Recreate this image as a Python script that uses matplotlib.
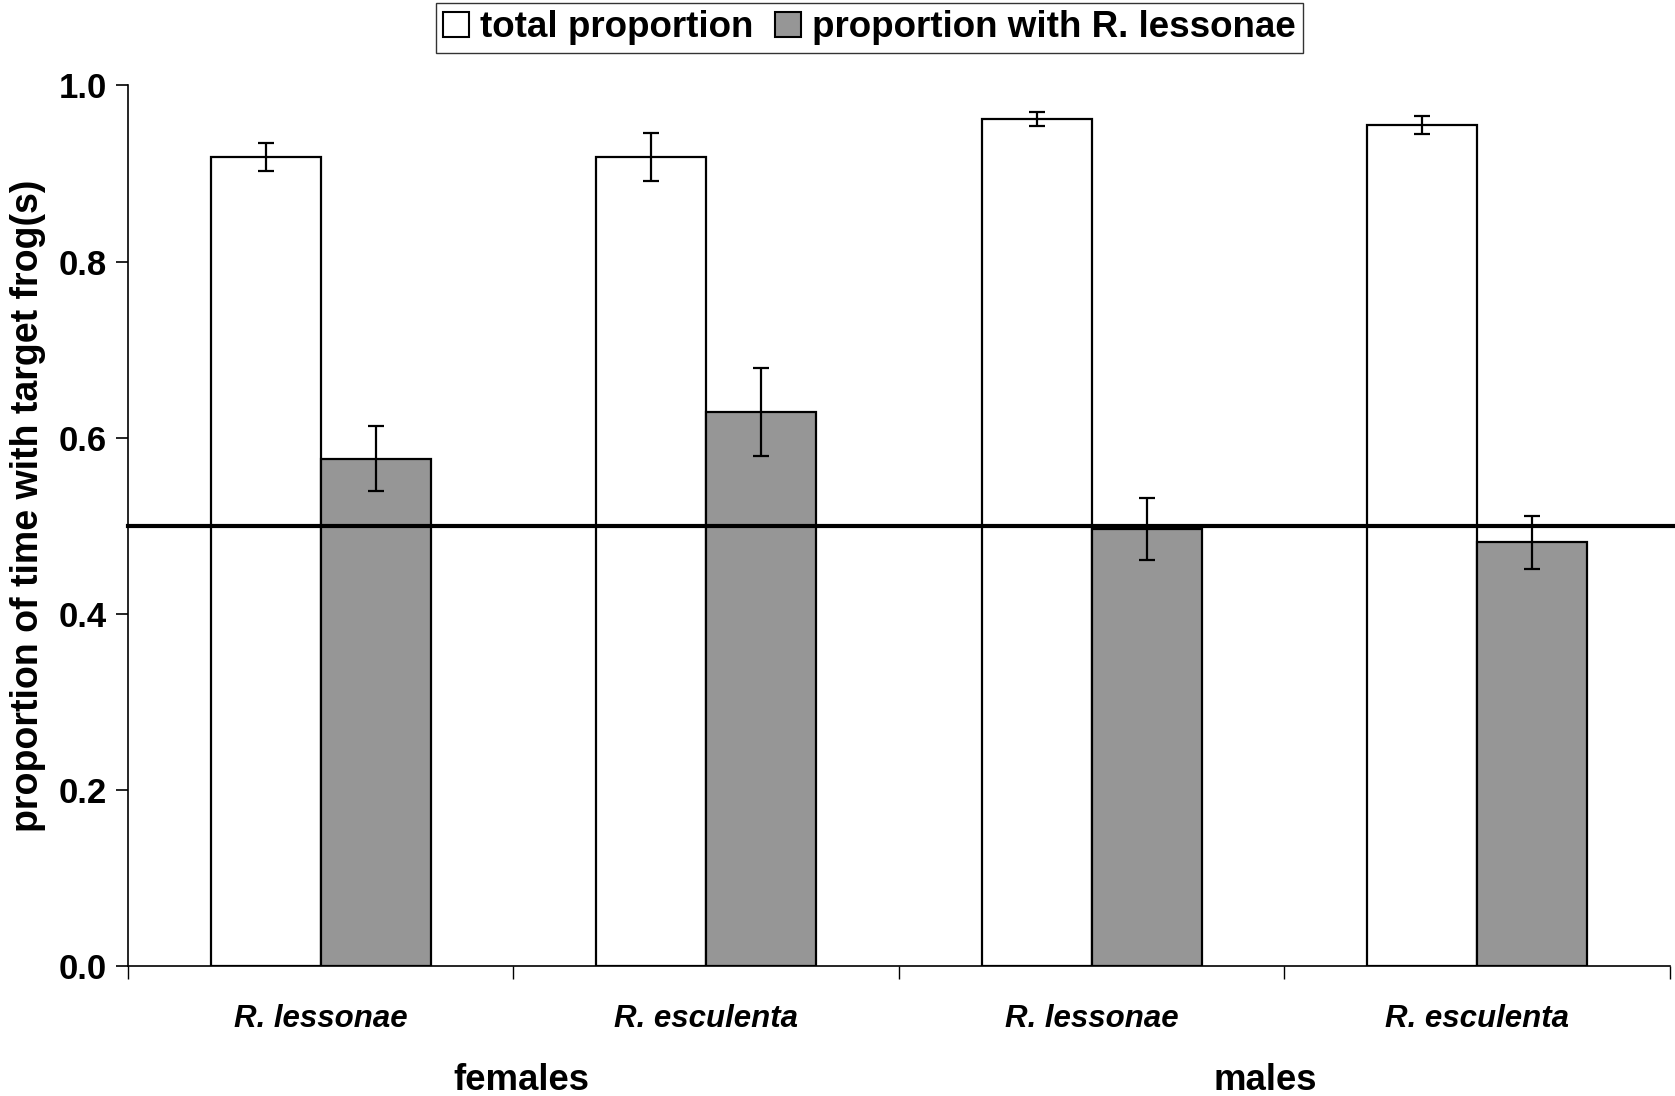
import numpy as np
import matplotlib
matplotlib.use("Agg")
import matplotlib.pyplot as plt
from matplotlib.patches import Patch

plt.rcParams['font.family'] = ['Liberation Sans', 'DejaVu Sans']
plt.rcParams['font.weight'] = 'bold'

species = ["R. lessonae", "R. esculenta", "R. lessonae", "R. esculenta"]
sexes = ["females", "males"]

total = [0.919, 0.919, 0.962, 0.955]
total_err = [0.016, 0.027, 0.008, 0.010]
lessonae = [0.576, 0.629, 0.496, 0.481]
lessonae_err = [0.037, 0.050, 0.035, 0.030]

fig = plt.figure(figsize=(16.75, 10.96), dpi=100)
ax = fig.add_axes([0.0764, 0.1186, 0.9206, 0.8034])

x = np.arange(len(species))
w = 0.285
err_kw = dict(ecolor='black', elinewidth=1.6, capsize=5.5, capthick=1.6)

ax.bar(x - w / 2, total, w, yerr=total_err, color='white', edgecolor='black',
       linewidth=1.6, error_kw=err_kw, label='total proportion')
ax.bar(x + w / 2, lessonae, w, yerr=lessonae_err, color='#969696', edgecolor='black',
       linewidth=1.6, error_kw=err_kw, label='proportion with R. lessonae')

ax.axhline(0.5, xmax=1.004, color='black', linewidth=3, clip_on=False)

ax.set_xlim(-0.5, 3.5)
ax.set_ylim(0, 1.0)
ax.set_yticks([0, 0.2, 0.4, 0.6, 0.8, 1.0])
ax.set_yticklabels(["0.0", "0.2", "0.4", "0.6", "0.8", "1.0"], fontsize=25, fontweight='bold')
ax.tick_params(axis='y', direction='out', length=9, width=1.2, pad=6)

# group boundary ticks on the category axis
ax.set_xticks(np.arange(-0.5, 4.0, 1.0))
ax.set_xticklabels([])
ax.tick_params(axis='x', direction='out', length=9, width=1.0)
for xi, s in zip(x, species):
    ax.text(xi, -0.06, s, ha='center', va='center', fontsize=22.5, fontweight='bold',
            style='italic', transform=ax.get_xaxis_transform())
for xi, s in zip([0.52, 2.45], sexes):
    ax.text(xi, -0.13, s, ha='center', va='center', fontsize=26.3, fontweight='bold',
            transform=ax.get_xaxis_transform())

for sp in ['top', 'right']:
    ax.spines[sp].set_visible(False)
ax.spines['left'].set_linewidth(1.2)
ax.spines['bottom'].set_linewidth(1.2)

ax.set_ylabel("proportion of time with target frog(s)", fontsize=27, fontweight='bold')
ax.yaxis.set_label_coords(-0.053, 0.523)

handles = [Patch(facecolor='white', edgecolor='black', linewidth=1.5),
           Patch(facecolor='#969696', edgecolor='black', linewidth=1.5)]
fig.legend(handles, ['total proportion', 'proportion with R. lessonae'], loc='upper center',
           bbox_to_anchor=(0.519, 1.014), ncol=2, frameon=True, fancybox=False,
           edgecolor='black', handlelength=0.7, handleheight=0.7, handletextpad=0.3,
           columnspacing=0.6, borderpad=0.2, prop={'weight': 'bold', 'size': 26.5})

fig.savefig("out.png", dpi=100)
